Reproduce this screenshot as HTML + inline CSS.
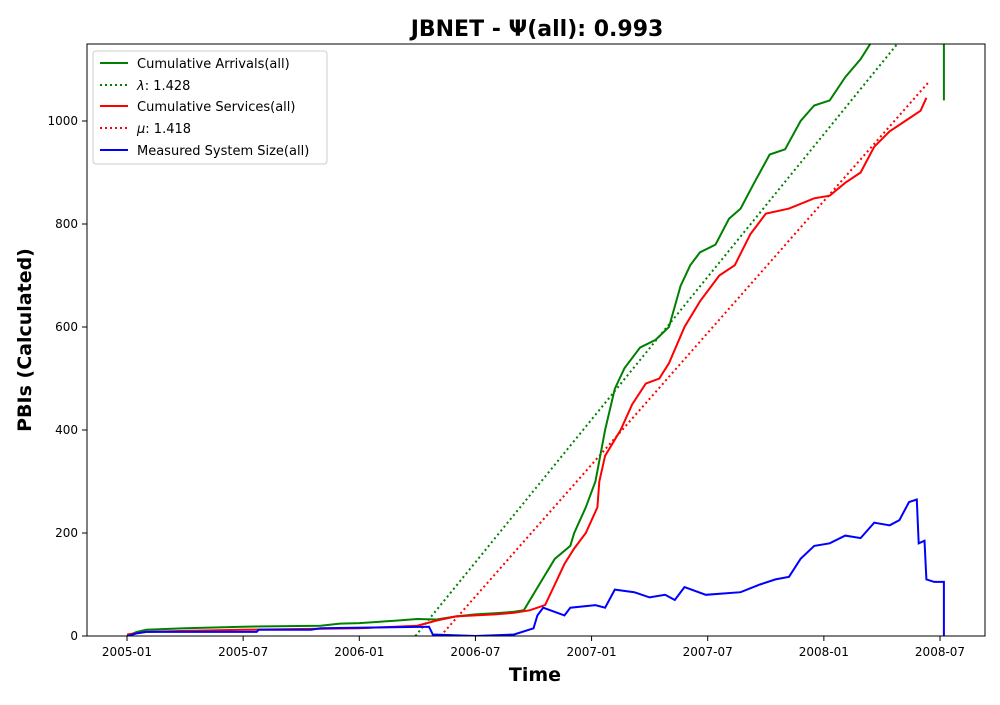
<!DOCTYPE html>
<html><head><meta charset="utf-8">
<style>
body{margin:0;background:#fff;font-family:"Liberation Sans","DejaVu Sans",sans-serif;}
svg text{font-family:"DejaVu Sans","Liberation Sans",sans-serif;}
</style></head>
<body>
<svg id="chart" width="1000" height="700" xmlns="http://www.w3.org/2000/svg">
<text x="537" y="36" text-anchor="middle" font-size="22" font-weight="bold">JBNET -  Ψ(all): 0.993</text>
<defs><clipPath id="clip"><rect x="87" y="44" width="898" height="592"/></clipPath></defs>
<g id="marks" clip-path="url(#clip)"></g>
<rect x="87" y="44" width="898" height="592" fill="none" stroke="#000" stroke-width="1"/>
<g id="axes"></g>
<text x="535" y="681" text-anchor="middle" font-size="19" font-weight="bold">Time</text>
<text transform="translate(31,340) rotate(-90)" text-anchor="middle" font-size="19" font-weight="bold">PBIs (Calculated)</text>
<g>
<rect x="93" y="51" width="234" height="113" rx="3" fill="#fff" fill-opacity="0.8" stroke="#ccc"/>
<line x1="100" y1="63" x2="128" y2="63" stroke="green" stroke-width="2"/><text x="137" y="68" font-size="13">Cumulative Arrivals(all)</text>
<line x1="100" y1="85" x2="128" y2="85" stroke="green" stroke-width="2" stroke-dasharray="2,3"/><text x="137" y="90" font-size="13"><tspan font-style="italic">λ</tspan>: 1.428</text>
<line x1="100" y1="106" x2="128" y2="106" stroke="red" stroke-width="2"/><text x="137" y="111" font-size="13">Cumulative Services(all)</text>
<line x1="100" y1="128" x2="128" y2="128" stroke="red" stroke-width="2" stroke-dasharray="2,3"/><text x="137" y="133" font-size="13"><tspan font-style="italic">μ</tspan>: 1.418</text>
<line x1="100" y1="150" x2="128" y2="150" stroke="blue" stroke-width="2"/><text x="137" y="155" font-size="13">Measured System Size(all)</text>
</g>
</svg>
<script>
// months since 2005-01
const xTickLabels=["2005-01","2005-07","2006-01","2006-07","2007-01","2007-07","2008-01","2008-07"];
const xTickMonths=[0,6,12,18,24,30,36,42];
const yTicks=[0,200,400,600,800,1000];
const arrMonths=[0,0.5,1,3,6,10,11,12,14,15,16,17,18,19,20,20.5,21.3,22.1,22.9,23.1,23.7,24.2,24.7,25.2,25.7,26.5,27.3,28.0,28.6,29.1,29.6,30.4,31.1,31.7,32.4,33.2,34.0,34.8,35.5,36.3,37.1,37.9,38.4,38.9,42.2,42.2];
const arrValues=[0,8,12,15,18,20,24,25,30,33,32,38,42,44,47,50,100,150,175,200,250,300,400,480,520,560,575,600,680,720,745,760,810,830,880,935,945,1000,1030,1040,1085,1120,1150,1170,1200,1040];
const srvMonths=[0,1,3,6,12,15,16,17,18,19,20,20.8,21.6,22.1,22.6,23.1,23.7,24.3,24.4,24.7,25.5,26.1,26.8,27.5,28.0,28.8,29.6,30.6,31.4,32.2,33.0,34.2,35.5,36.3,37.1,37.9,38.6,39.4,40.2,41.0,41.3];
const srvValues=[3,8,10,12,15,20,30,38,40,42,45,50,60,100,140,170,200,250,300,350,400,450,490,500,530,600,650,700,720,780,820,830,850,855,880,900,950,980,1000,1020,1045];
const sysMonths=[0,0.5,1,6.7,6.8,9.5,10,15.6,15.8,18,20,21,21.2,21.5,22.6,22.9,24.2,24.7,25.2,26.2,27,27.8,28.3,28.8,29.9,31.7,32.7,33.5,34.2,34.8,35.5,36.3,37.1,37.9,38.6,39.4,39.9,40.4,40.8,40.9,41.2,41.3,41.7,42.2,42.2];
const sysValues=[0,5,8,8,12,12,15,18,3,0,3,15,40,55,40,55,60,55,90,85,75,80,70,95,80,85,100,110,115,150,175,180,195,190,220,215,225,260,265,180,185,110,105,105,0];
const lambdaMonths=[14.9,39.8];
const lambdaValues=[0,1150];
const muMonths=[16.2,41.4];
const muValues=[0,1075];

const X=m=>127+m*(813/42);
const Y=v=>636-v*0.515;
const NS="http://www.w3.org/2000/svg";
const marks=document.getElementById('marks'),axes=document.getElementById('axes');
function path(ms,vs,color,dash,name){
  const p=document.createElementNS(NS,'path');
  p.setAttribute('d',ms.map((m,i)=>(i?'L':'M')+X(m).toFixed(1)+','+Y(vs[i]).toFixed(1)).join(''));
  p.setAttribute('fill','none');p.setAttribute('stroke',color);p.setAttribute('stroke-width','2');
  if(dash)p.setAttribute('stroke-dasharray','2,3');
  
  
  marks.appendChild(p);
}
path(lambdaMonths,lambdaValues,'green',true,'lambda-line');
path(muMonths,muValues,'red',true,'mu-line');
path(arrMonths,arrValues,'green',false,'cumulative-arrivals-line');
path(srvMonths,srvValues,'red',false,'cumulative-services-line');
path(sysMonths,sysValues,'blue',false,'system-size-line');
xTickMonths.forEach((m,i)=>{
  const l=document.createElementNS(NS,'line');
  l.setAttribute('x1',X(m));l.setAttribute('x2',X(m));l.setAttribute('y1',636);l.setAttribute('y2',641);l.setAttribute('stroke','#000');
  
  
  axes.appendChild(l);
  const t=document.createElementNS(NS,'text');
  t.setAttribute('x',X(m));t.setAttribute('y',656);t.setAttribute('text-anchor','middle');t.setAttribute('font-size','12');
  t.textContent=xTickLabels[i];
  
  
  axes.appendChild(t);
});
yTicks.forEach(v=>{
  const l=document.createElementNS(NS,'line');
  l.setAttribute('x1',82);l.setAttribute('x2',87);l.setAttribute('y1',Y(v));l.setAttribute('y2',Y(v));l.setAttribute('stroke','#000');
  
  
  axes.appendChild(l);
  const t=document.createElementNS(NS,'text');
  t.setAttribute('x',78);t.setAttribute('y',Y(v)+4);t.setAttribute('text-anchor','end');t.setAttribute('font-size','12');
  t.textContent=v;
  
  
  axes.appendChild(t);
});
</script>
</body></html>
